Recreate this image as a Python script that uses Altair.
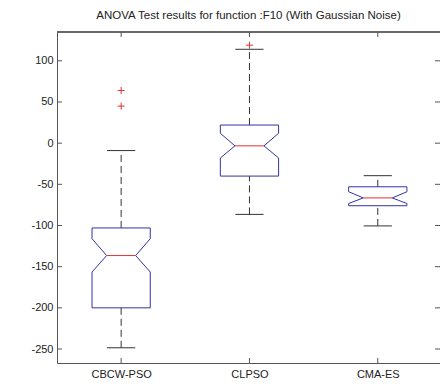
import json
import altair as alt
import pandas as pd

# Summary statistics of each algorithm's results (notched box plot)
groups = ["CBCW-PSO", "CLPSO", "CMA-ES"]
q1 = [-200, -40, -76]
q3 = [-103, 22, -53]
medians = [-136.5, -3.3, -66.5]
notch_lo = [-156.5, -18, -73.3]
notch_hi = [-116, 12, -59]
whisker_lo = [-248.5, -86.5, -100.5]
whisker_hi = [-9, 114, -39.5]

# Points beyond the whiskers
outlier_group = ["CBCW-PSO", "CBCW-PSO", "CLPSO"]
outlier_value = [64, 45, 119]

y_ticks = [-250, -200, -150, -100, -50, 0, 50, 100]

# Drawing constants (in x-axis units)
BOX_HW = 0.227
NOTCH_HW = 0.113
CAP_HW = 0.11
W, H = 383, 331
TICK = 5

BOX_COLOR = "#3333a6"
MED_COLOR = "#e03232"
WHISKER_COLOR = "#333333"
AXIS_COLOR = "#555555"
FONT = "Liberation Sans"

pos = {g: i + 1 for i, g in enumerate(groups)}

# Notched box outlines as closed polygons
outline_rows = []
for i, g in enumerate(groups):
    c = pos[g]
    pts = [
        (c - BOX_HW, q3[i]), (c + BOX_HW, q3[i]), (c + BOX_HW, notch_hi[i]),
        (c + NOTCH_HW, medians[i]), (c + BOX_HW, notch_lo[i]), (c + BOX_HW, q1[i]),
        (c - BOX_HW, q1[i]), (c - BOX_HW, notch_lo[i]), (c - NOTCH_HW, medians[i]),
        (c - BOX_HW, notch_hi[i]), (c - BOX_HW, q3[i]),
    ]
    for k, (x, y) in enumerate(pts):
        outline_rows.append({"group": g, "order": k, "x": x, "y": y})
outline_df = pd.DataFrame(outline_rows)

stats_df = pd.DataFrame({
    "group": groups,
    "c": [pos[g] for g in groups],
    "q1": q1, "q3": q3, "median": medians,
    "wlo": whisker_lo, "whi": whisker_hi,
})
stats_df["nl"] = stats_df["c"] - NOTCH_HW
stats_df["nr"] = stats_df["c"] + NOTCH_HW
stats_df["cl"] = stats_df["c"] - CAP_HW
stats_df["cr"] = stats_df["c"] + CAP_HW

out_df = pd.DataFrame({
    "group": outlier_group,
    "c": [pos[g] for g in outlier_group],
    "value": outlier_value,
})
ytick_df = pd.DataFrame({"v": y_ticks})

x_scale = alt.Scale(domain=[0.5, 3.485], nice=False, zero=False)
y_scale = alt.Scale(domain=[-267, 135], nice=False, zero=False)

x_axis = alt.Axis(
    values=[1, 2, 3],
    labelExpr=f"{json.dumps(groups)}[datum.value - 1]",
    title=None, ticks=False, grid=False, domain=True,
    domainColor=AXIS_COLOR, labelPadding=5, labelFontSize=11,
    labelFont=FONT, labelColor="#222222",
)
y_axis = alt.Axis(
    values=y_ticks, labelExpr="'' + datum.value",
    title=None, ticks=False, grid=False, domain=True,
    domainColor=AXIS_COLOR, labelPadding=4, labelFontSize=11,
    labelFont=FONT, labelColor="#222222",
)


def X(field):
    return alt.X(field, type="quantitative", scale=x_scale, axis=x_axis)


def Y(field):
    return alt.Y(field, type="quantitative", scale=y_scale, axis=y_axis)


boxes = alt.Chart(outline_df).mark_line(color=BOX_COLOR, strokeWidth=1).encode(
    x=X("x"), y=Y("y"), order="order:Q", detail="group:N"
)

base = alt.Chart(stats_df)

upper_whisker = base.mark_rule(color=WHISKER_COLOR, strokeDash=[7, 4], strokeWidth=1).encode(
    x=X("c"), y=Y("q3"), y2="whi"
)
lower_whisker = base.mark_rule(color=WHISKER_COLOR, strokeDash=[7, 4], strokeWidth=1).encode(
    x=X("c"), y=Y("wlo"), y2="q1"
)
upper_cap = base.mark_rule(color=WHISKER_COLOR, strokeWidth=1).encode(
    x=X("cl"), x2="cr", y=Y("whi")
)
lower_cap = base.mark_rule(color=WHISKER_COLOR, strokeWidth=1).encode(
    x=X("cl"), x2="cr", y=Y("wlo")
)
median_line = base.mark_rule(color=MED_COLOR, strokeWidth=1).encode(
    x=X("nl"), x2="nr", y=Y("median")
)

outliers = alt.Chart(out_df).mark_point(
    shape="M-1,0L1,0M0,-1L0,1", size=49, filled=False,
    color=MED_COLOR, strokeWidth=1, opacity=1,
).encode(x=X("c"), y=Y("value"))

# Inward-pointing tick marks on all four sides, plus the top frame line
left_ticks = alt.Chart(ytick_df).mark_rule(color=AXIS_COLOR).encode(
    y=Y("v"), x=alt.value(0), x2=alt.value(TICK)
)
right_ticks = alt.Chart(ytick_df).mark_rule(color=AXIS_COLOR).encode(
    y=Y("v"), x=alt.value(W - TICK), x2=alt.value(W)
)
top_ticks = base.mark_rule(color=AXIS_COLOR).encode(
    x=X("c"), y=alt.value(0), y2=alt.value(TICK)
)
bottom_ticks = base.mark_rule(color=AXIS_COLOR).encode(
    x=X("c"), y=alt.value(H - TICK), y2=alt.value(H)
)
top_frame = base.mark_rule(color=AXIS_COLOR).encode(
    x=alt.value(0), x2=alt.value(W), y=alt.value(0)
)

chart = alt.layer(
    top_frame, left_ticks, right_ticks, top_ticks, bottom_ticks,
    upper_whisker, lower_whisker, upper_cap, lower_cap,
    boxes, median_line, outliers,
).properties(
    width=W, height=H,
    title=alt.TitleParams(
        "ANOVA Test results for function :F10 (With Gaussian Noise)",
        font=FONT, fontSize=11.5, fontWeight="normal", color="#222222",
        anchor="middle", offset=10,
    ),
    autosize=alt.AutoSizeParams(type="none"),
    padding={"left": 57, "top": 32, "right": 0, "bottom": 24},
    background="white",
).configure_view(stroke=None)

chart.save("out.html", embed_options={"renderer": "svg", "actions": False})
